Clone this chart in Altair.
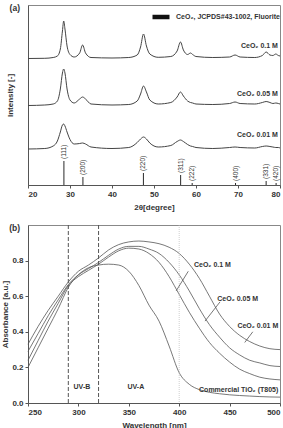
import altair as alt
import pandas as pd

FONT = "Liberation Sans"
INK = "#333333"
LINE = "#555555"

# ---------------- (a) XRD patterns ----------------
two_theta = [20, 24, 26, 27, 27.7, 28.2, 28.5, 28.8, 29.3, 30, 31, 32.3, 33, 33.7, 35,
             40, 44, 46, 46.8, 47.5, 48.2, 49, 51, 54, 55.5, 56.3, 57, 58, 58.7, 59.2,
             60, 64, 68, 69.3, 70.5, 74, 75.8, 76.7, 77.6, 78.3, 79, 79.6, 80]
xrd_01 = [126.5, 126.7, 127.5, 129, 136, 154, 164, 156, 139, 130.5,
          128, 132, 140, 132, 127.5, 127, 127.5, 130, 138, 151,
          139, 131, 127.7, 128.5, 134, 143, 135, 130.5, 132, 130.5,
          128.5, 127.5, 128, 130, 128, 127.5, 129.5, 133, 130, 129.5,
          131, 129.5, 129]
xrd_005 = [79.5, 80, 81, 84, 96, 112, 116, 112, 96, 85,
           82, 86, 88, 86, 81, 80, 80.5, 84, 91, 99,
           93, 85, 81, 82.5, 88, 93, 89, 84, 82.5, 82,
           81, 80.5, 81.5, 83, 81.5, 81, 82.5, 83.5, 82.5, 81.5,
           82, 81.5, 81]
xrd_001 = [36, 36.5, 39, 44, 53, 60, 61, 59, 53, 45.5,
           41, 41.5, 42, 41, 38, 36.5, 37.5, 42.5, 46, 48,
           46, 42, 38, 39.5, 43.5, 45, 43.5, 40.5, 39, 38.5,
           37.5, 36.5, 37.5, 38, 37.5, 37, 38.5, 39, 38.5, 38,
           37.5, 37.5, 37]
xrd_names = ["CeO₂ 0.1 M", "CeO₂ 0.05 M", "CeO₂ 0.01 M"]
xrd_label_x = [79.5, 79.5, 79.5]
xrd_label_y = [139, 91, 50]

hkl = ["(111)", "(200)", "(220)", "(311)", "(222)", "(400)", "(331)", "(420)"]
ref_pos = [28.55, 33.08, 47.48, 56.34, 59.09, 69.41, 76.70, 79.07]
ref_int = [24, 8, 12, 10, 2, 2, 4, 2]
ref_base = [0, 0, 0, 0, 0, 0, 0, 0]
ref_name = "CeO₂, JCPDS#43-1002, Fluorite"
two_theta_ticks = [20, 30, 40, 50, 60, 70, 80]

# ---------------- (b) UV-vis absorbance ----------------
wavelength = [250, 260, 270, 280, 290, 300, 310, 320, 330, 340, 350, 360, 370,
              380, 390, 400, 410, 420, 430, 440, 450, 460, 470, 480, 490, 500]
abs_01 = [0.24, 0.35, 0.46, 0.56, 0.66, 0.71, 0.745, 0.78, 0.82, 0.855, 0.87, 0.865, 0.84,
          0.79, 0.71, 0.61, 0.51, 0.42, 0.34, 0.28, 0.23, 0.19, 0.165, 0.145, 0.135, 0.13]
abs_005 = [0.29, 0.39, 0.49, 0.58, 0.665, 0.72, 0.755, 0.79, 0.83, 0.865, 0.88, 0.88, 0.865,
           0.84, 0.79, 0.72, 0.63, 0.53, 0.44, 0.37, 0.31, 0.27, 0.24, 0.225, 0.21, 0.205]
abs_001 = [0.33, 0.43, 0.52, 0.60, 0.68, 0.74, 0.775, 0.815, 0.86, 0.89, 0.905, 0.91, 0.905,
           0.895, 0.875, 0.84, 0.78, 0.70, 0.60, 0.50, 0.43, 0.38, 0.345, 0.32, 0.305, 0.30]
abs_tio2 = [0.20, 0.31, 0.42, 0.53, 0.65, 0.72, 0.76, 0.775, 0.78, 0.775, 0.74, 0.66, 0.55,
            0.46, 0.32, 0.17, 0.105, 0.075, 0.06, 0.052, 0.046, 0.042, 0.039, 0.036, 0.034, 0.033]
uv_names = ["CeO₂ 0.1 M", "CeO₂ 0.05 M", "CeO₂ 0.01 M", "Commercial TiO₂ (T805)"]
uv_label_x = [433, 458, 478, 459]
uv_label_y = [0.775, 0.585, 0.43, 0.074]
arrow_x0 = [409, 440.5, 473]
arrow_y0 = [0.74, 0.568, 0.40]
arrow_x1 = [397, 425.6, 465]
arrow_y1 = [0.63, 0.46, 0.34]
uv_bounds = [290, 320]
vis_bound = [400]
band_names = ["UV-B", "UV-A"]
band_x = [303.5, 357]
band_y = [0.09, 0.09]
wl_ticks = [250, 300, 350, 400, 450, 500]
abs_ticks = [0.0, 0.2, 0.4, 0.6, 0.8]

# ---------------- tables ----------------
n = len(two_theta)
df_xrd = pd.DataFrame({
    "two_theta": two_theta * 3,
    "intensity": xrd_01 + xrd_005 + xrd_001,
    "sample": [xrd_names[0]] * n + [xrd_names[1]] * n + [xrd_names[2]] * n,
})
df_xrd_lab = pd.DataFrame({"x": xrd_label_x, "y": xrd_label_y, "t": xrd_names})
df_ref = pd.DataFrame({"pos": ref_pos, "base": ref_base, "h": ref_int, "hkl": hkl,
                       "phase": [ref_name] * len(hkl)})

m = len(wavelength)
df_uv = pd.DataFrame({
    "wl": wavelength * 4,
    "absorbance": abs_01 + abs_005 + abs_001 + abs_tio2,
    "sample": sum([[nm] * m for nm in uv_names], []),
})
df_uv_lab = pd.DataFrame({"x": uv_label_x, "y": uv_label_y, "t": uv_names})
df_arrow = pd.DataFrame({"x0": arrow_x0, "y0": arrow_y0, "x1": arrow_x1, "y1": arrow_y1})
df_band = pd.DataFrame({"x": band_x, "y": band_y, "t": band_names})
df_uvb = pd.DataFrame({"x": uv_bounds})
df_vis = pd.DataFrame({"x": vis_bound})
df_tag_a = pd.DataFrame({"t": ["(a)"]})
df_tag_b = pd.DataFrame({"t": ["(b)"]})

# ---------------- panel (a) ----------------
xa = alt.X("two_theta:Q", scale=alt.Scale(domain=[20, 80], nice=False, zero=False),
           axis=alt.Axis(values=two_theta_ticks, format="d", title="2θ[degree]", titlePadding=5))
ya = alt.Y("intensity:Q", scale=alt.Scale(domain=[0, 180], nice=False),
           axis=alt.Axis(title="Intensity [-]", labels=False, ticks=False, titleX=-14))

traces = alt.Chart(df_xrd).mark_line(color="#444444", strokeWidth=1.0, interpolate="monotone").encode(
    x=xa, y=ya, detail="sample:N")

refs = alt.Chart(df_ref).mark_rule(strokeWidth=0.9).encode(
    x=alt.X("pos:Q"), y=alt.Y("base:Q"), y2=alt.Y2("h:Q"),
    color=alt.Color("phase:N", scale=alt.Scale(range=["#111111"]),
                    legend=alt.Legend(orient="none", legendX=122, legendY=1, title=None,
                                      symbolType="stroke", symbolSize=289, symbolStrokeWidth=4.5,
                                      labelFont=FONT, labelFontSize=7, labelFontWeight="bold",
                                      labelColor=INK, padding=0, labelOffset=4)))

ref_labels = alt.Chart(df_ref).mark_text(angle=270, align="left", baseline="middle", dx=2,
                                         font=FONT, fontSize=6.5, color=INK).encode(
    x=alt.X("pos:Q"), y=alt.Y("h:Q"), text="hkl:N")

xrd_labels = alt.Chart(df_xrd_lab).mark_text(align="right", baseline="middle", font=FONT,
                                             fontSize=7, fontWeight="bold", color=INK).encode(
    x=alt.X("x:Q"), y=alt.Y("y:Q"), text="t:N")

tag_a = alt.Chart(df_tag_a).mark_text(
    align="right", baseline="top", font=FONT, fontSize=8.5, fontWeight="bold", color=INK).encode(
    x=alt.value(-8), y=alt.value(-1), text="t:N")

panel_a = alt.layer(traces, refs, ref_labels, xrd_labels, tag_a).properties(width=252, height=180)

# ---------------- panel (b) ----------------
xb = alt.X("wl:Q", scale=alt.Scale(domain=[250, 500], nice=False, zero=False),
           axis=alt.Axis(values=wl_ticks, format="d", title="Wavelength [nm]", titlePadding=5))
yb = alt.Y("absorbance:Q", scale=alt.Scale(domain=[0, 1.0], nice=False),
           axis=alt.Axis(values=abs_ticks, format=".1f", title="Absorbance [a.u.]", titleX=-19))

curves = alt.Chart(df_uv).mark_line(color=LINE, strokeWidth=0.8, interpolate="monotone").encode(
    x=xb, y=yb, detail="sample:N")

uvb = alt.Chart(df_uvb).mark_rule(color="#555555", strokeWidth=1, strokeDash=[4, 2]).encode(
    x=alt.X("x:Q"))
vis = alt.Chart(df_vis).mark_rule(color="#bbbbbb", strokeWidth=0.7, strokeDash=[1, 1]).encode(
    x=alt.X("x:Q"))

arrows = alt.Chart(df_arrow).mark_rule(color=LINE, strokeWidth=0.8).encode(
    x=alt.X("x0:Q"), y=alt.Y("y0:Q"), x2=alt.X2("x1:Q"), y2=alt.Y2("y1:Q"))

uv_labels = alt.Chart(df_uv_lab).mark_text(align="center", baseline="middle", font=FONT,
                                           fontSize=7, fontWeight="bold", color=INK).encode(
    x=alt.X("x:Q"), y=alt.Y("y:Q"), text="t:N")

band_labels = alt.Chart(df_band).mark_text(align="center", baseline="middle", font=FONT,
                                           fontSize=7, fontWeight="bold", color=INK).encode(
    x=alt.X("x:Q"), y=alt.Y("y:Q"), text="t:N")

tag_b = alt.Chart(df_tag_b).mark_text(
    align="right", baseline="top", font=FONT, fontSize=8.5, fontWeight="bold", color=INK).encode(
    x=alt.value(-8), y=alt.value(-1), text="t:N")

panel_b = alt.layer(curves, vis, uvb, arrows, uv_labels, band_labels, tag_b).properties(
    width=252, height=178)

chart = alt.concat(panel_a, panel_b, columns=1, spacing=40, bounds="flush").properties(
    padding={"left": 0, "top": 3, "right": 0, "bottom": 0}
).configure_view(stroke="#888888", strokeWidth=1).configure_axis(
    labelFont=FONT, labelFontWeight="bold", labelFontSize=8, labelColor=INK,
    titleFont=FONT, titleFontWeight="bold", titleFontSize=8, titleColor=INK,
    domainColor="#555555", tickColor="#555555", grid=False, tickSize=3, labelPadding=2,
)

chart.save("out.html", embed_options={"renderer": "svg", "actions": False})
